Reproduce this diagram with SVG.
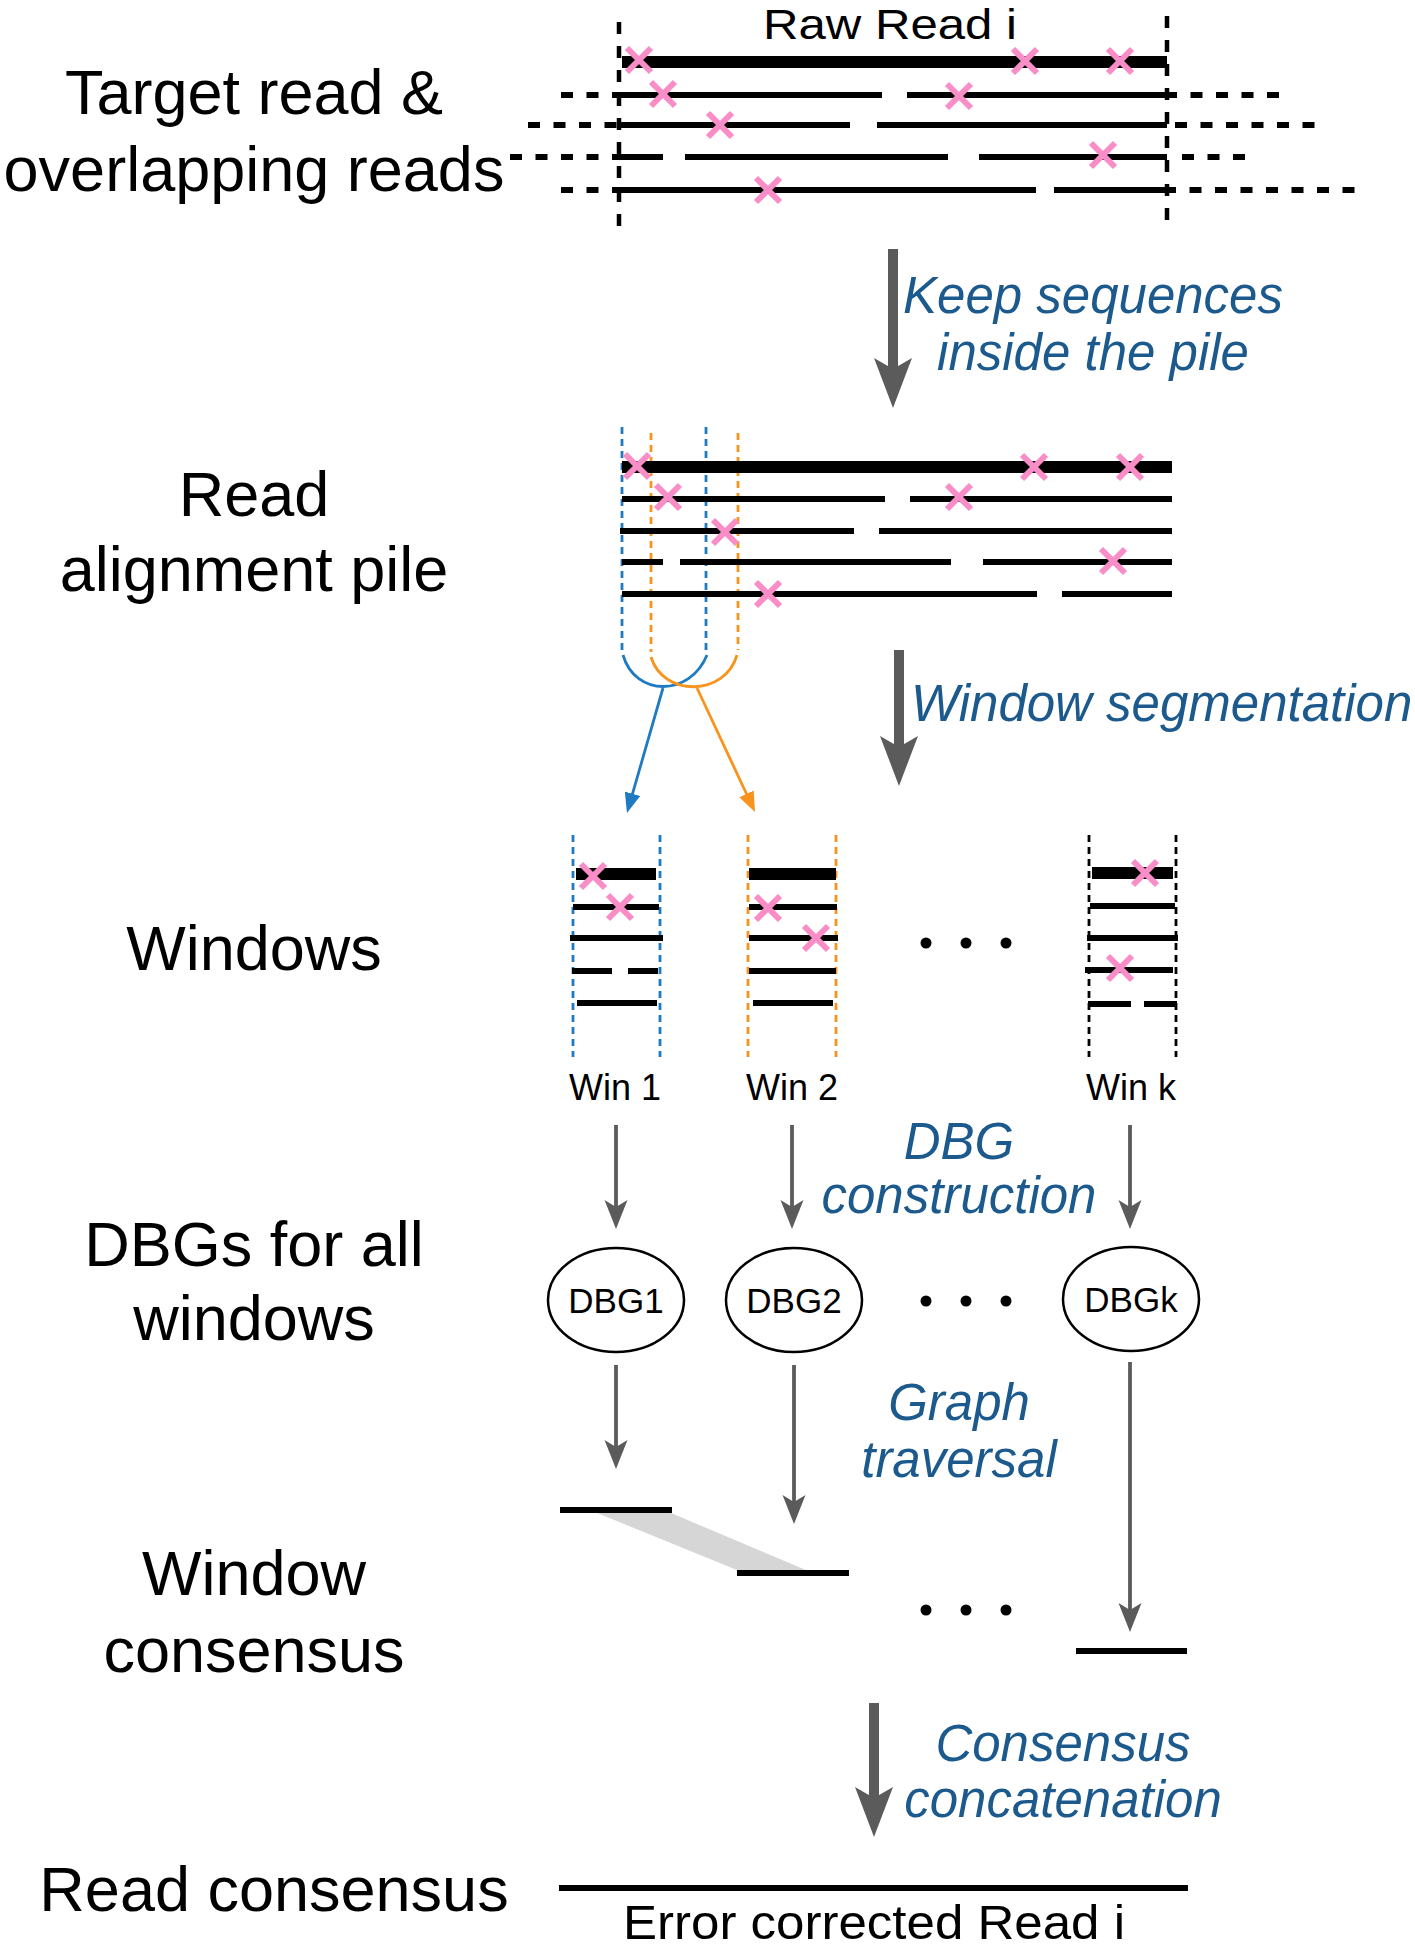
<svg xmlns="http://www.w3.org/2000/svg" width="1415" height="1950" viewBox="0 0 1415 1950">
<style>
.lbl{font-family:"Liberation Sans",Arial,sans-serif;font-size:63px;fill:#000;text-anchor:middle}
.blue{font-family:"Liberation Sans",Arial,sans-serif;font-size:51px;font-style:italic;fill:#1C5A8E;text-anchor:middle}
.sm{font-family:"Liberation Sans",Arial,sans-serif;font-size:36px;fill:#000;text-anchor:middle}
.dbg{font-family:"Liberation Sans",Arial,sans-serif;font-size:35px;fill:#000;text-anchor:middle}
.thick{stroke:#000;stroke-width:12;fill:none}
.read{stroke:#000;stroke-width:6;fill:none}
.dots{stroke:#000;stroke-width:6;fill:none;stroke-dasharray:12 13.5}
.vdash{stroke:#000;stroke-width:4.5;fill:none;stroke-dasharray:12 12}
.bdash{stroke:#1F7BC1;stroke-width:2.8;fill:none;stroke-dasharray:7 5}
.odash{stroke:#F7941D;stroke-width:2.8;fill:none;stroke-dasharray:7 5}
.kdash{stroke:#000;stroke-width:2.8;fill:none;stroke-dasharray:7 5}
.x{stroke:#F98DC7;stroke-width:6;fill:none}
.big{stroke:#5b5b5b;stroke-width:10;fill:none}
.thin{stroke:#5b5b5b;stroke-width:3.8;fill:none}
.node{fill:#fff;stroke:#000;stroke-width:2.5}
</style>
<defs>
<path id="cross" d="M-12,-12 L12,12 M12,-12 L-12,12" class="x"/>
<marker id="hb" markerUnits="userSpaceOnUse" markerWidth="50" markerHeight="42" viewBox="0 0 50 42" refX="11" refY="21" orient="auto"><path d="M0,2 L50,21 L0,40 L11,21 Z" fill="#5b5b5b"/></marker>
<marker id="hs" markerUnits="userSpaceOnUse" markerWidth="29" markerHeight="25" viewBox="0 0 29 25" refX="7" refY="12.5" orient="auto"><path d="M0,1 L29,12.5 L0,24 L7,12.5 Z" fill="#5b5b5b"/></marker>
<marker id="hblue" markerUnits="userSpaceOnUse" markerWidth="20" markerHeight="16" viewBox="0 0 20 16" refX="4" refY="8" orient="auto"><path d="M0,0 L20,8 L0,16 Z" fill="#1F7BC1"/></marker>
<marker id="horange" markerUnits="userSpaceOnUse" markerWidth="20" markerHeight="16" viewBox="0 0 20 16" refX="4" refY="8" orient="auto"><path d="M0,0 L20,8 L0,16 Z" fill="#F7941D"/></marker>
</defs>
<rect width="1415" height="1950" fill="#fff"/>

<g id="labels">
<text class="lbl" x="254" y="114">Target read &amp;</text>
<text class="lbl" x="254" y="191">overlapping reads</text>
<text class="lbl" x="254" y="516">Read</text>
<text class="lbl" x="254" y="591">alignment pile</text>
<text class="lbl" x="254" y="970">Windows</text>
<text class="lbl" x="254" y="1266">DBGs for all</text>
<text class="lbl" x="254" y="1340">windows</text>
<text class="lbl" x="254" y="1595">Window</text>
<text class="lbl" x="254" y="1672">consensus</text>
<text class="lbl" x="274" y="1911">Read consensus</text>
</g>

<g id="raw-reads">
<text x="763" y="39" font-family="Liberation Sans, Arial, sans-serif" font-size="43" textLength="254" lengthAdjust="spacingAndGlyphs">Raw Read i</text>
<path class="vdash" d="M619,22 V238"/>
<path class="vdash" d="M1167,16 V232"/>
<path class="thick" d="M622,62 H1167"/>
<path class="read" d="M617,95 H882 M907,95 H1167"/>
<path class="read" d="M619,125 H850 M877,125 H1167"/>
<path class="read" d="M617,157 H663 M685,157 H948 M979,157 H1167"/>
<path class="read" d="M619,190 H1036 M1054,190 H1167"/>
<path class="dots" d="M561,95 H620"/>
<path class="dots" d="M528,125 H619"/>
<path class="dots" d="M510,157 H619"/>
<path class="dots" d="M561,190 H620"/>
<path class="dots" d="M1165,95 H1280"/>
<path class="dots" d="M1175,125 H1316"/>
<path class="dots" d="M1182,157 H1248"/>
<path class="dots" d="M1164,190 H1356"/>
<use href="#cross" x="639" y="60"/>
<use href="#cross" x="1025" y="61"/>
<use href="#cross" x="1120" y="61"/>
<use href="#cross" x="663" y="94"/>
<use href="#cross" x="959" y="96"/>
<use href="#cross" x="720" y="125"/>
<use href="#cross" x="1103" y="155"/>
<use href="#cross" x="768" y="190"/>
</g>

<g id="pile">
<path class="bdash" d="M622,427 V650"/>
<path class="bdash" d="M706,427 V650"/>
<path class="odash" d="M651,433 V652"/>
<path class="odash" d="M738,433 V650"/>
<path class="thick" d="M622,467 H1172"/>
<path class="read" d="M622,499 H885 M910,499 H1172"/>
<path class="read" d="M620,531 H854 M879,531 H1172"/>
<path class="read" d="M622,562 H663 M680,562 H951 M983,562 H1172"/>
<path class="read" d="M622,594 H1037 M1062,594 H1172"/>
<use href="#cross" x="637" y="466"/>
<use href="#cross" x="1034" y="467"/>
<use href="#cross" x="1130" y="467"/>
<use href="#cross" x="668" y="497"/>
<use href="#cross" x="959" y="497"/>
<use href="#cross" x="725" y="532"/>
<use href="#cross" x="1113" y="561"/>
<use href="#cross" x="768" y="594"/>
</g>

<g id="win1">
<path class="bdash" d="M573,835 V1057 M660,835 V1057"/>
<path class="thick" d="M576,874 H656"/>
<path class="read" d="M573,907 H659"/>
<path class="read" d="M570,938 H663"/>
<path class="read" d="M572,971 H612 M628,971 H658"/>
<path class="read" d="M577,1003 H657"/>
<use href="#cross" x="593" y="876"/>
<use href="#cross" x="620" y="907"/>
<text class="sm" x="615" y="1100">Win 1</text>
</g>
<g id="win2">
<path class="odash" d="M748,835 V1057 M836,835 V1057"/>
<path class="thick" d="M749,874 H836"/>
<path class="read" d="M749,907 H837"/>
<path class="read" d="M749,938 H838"/>
<path class="read" d="M749,971 H836"/>
<path class="read" d="M753,1003 H833"/>
<use href="#cross" x="768" y="908"/>
<use href="#cross" x="816" y="938"/>
<text class="sm" x="792" y="1100">Win 2</text>
</g>
<g id="wink">
<path class="kdash" d="M1089,835 V1057 M1176,835 V1057"/>
<path class="thick" d="M1092,873 H1173"/>
<path class="read" d="M1090,906 H1175"/>
<path class="read" d="M1087,938 H1178"/>
<path class="read" d="M1085,970 H1173"/>
<path class="read" d="M1088,1004 H1131 M1144,1004 H1177"/>
<use href="#cross" x="1145" y="873"/>
<use href="#cross" x="1120" y="968"/>
<text class="sm" x="1131" y="1100">Win k</text>
</g>
<g id="win-dots" fill="#000">
<circle cx="926" cy="943" r="5.5"/><circle cx="966" cy="943" r="5.5"/><circle cx="1006" cy="943" r="5.5"/>
</g>

<g id="dbg1"><ellipse class="node" cx="616" cy="1300" rx="68" ry="52"/><text class="dbg" x="616" y="1313">DBG1</text></g>
<g id="dbg2"><ellipse class="node" cx="794" cy="1300" rx="68" ry="52"/><text class="dbg" x="794" y="1313">DBG2</text></g>
<g id="dbgk"><ellipse class="node" cx="1131" cy="1299" rx="68" ry="52"/><text class="dbg" x="1131" y="1312">DBGk</text></g>
<g id="dbg-dots" fill="#000">
<circle cx="926" cy="1301" r="5.5"/><circle cx="966" cy="1301" r="5.5"/><circle cx="1006" cy="1301" r="5.5"/>
</g>

<g id="consensus">
<polygon points="597,1513 671,1513 806,1570 737,1570" fill="#d6d6d6"/>
<path class="read" d="M560,1510 H672"/>
<path class="read" d="M737,1573 H849"/>
<path class="read" d="M1076,1651 H1187"/>
<g fill="#000"><circle cx="926" cy="1610" r="5.5"/><circle cx="966" cy="1610" r="5.5"/><circle cx="1006" cy="1610" r="5.5"/></g>
</g>

<g id="read-consensus">
<path class="read" d="M559,1888 H1188"/>
<text x="623" y="1939" font-family="Liberation Sans, Arial, sans-serif" font-size="48" textLength="502" lengthAdjust="spacingAndGlyphs">Error corrected Read i</text>
</g>

<g id="step-labels">
<text class="blue" x="1093" y="313">Keep sequences</text>
<text class="blue" x="1093" y="370">inside the pile</text>
<text class="blue" x="911" y="721" style="text-anchor:start">Window segmentation</text>
<text class="blue" x="959" y="1159">DBG</text>
<text class="blue" x="959" y="1213">construction</text>
<text class="blue" x="959" y="1420">Graph</text>
<text class="blue" x="959" y="1477">traversal</text>
<text class="blue" x="1063" y="1761">Consensus</text>
<text class="blue" x="1063" y="1817">concatenation</text>
</g>

<g id="connectors">
<path class="big" d="M893,249 V369" marker-end="url(#hb)"/>
<path class="big" d="M899,650 V747" marker-end="url(#hb)"/>
<path class="big" d="M874,1703 V1798" marker-end="url(#hb)"/>
<path class="thin" d="M616,1125 V1207" marker-end="url(#hs)"/>
<path class="thin" d="M792,1125 V1207" marker-end="url(#hs)"/>
<path class="thin" d="M1130,1125 V1207" marker-end="url(#hs)"/>
<path class="thin" d="M616,1365 V1447" marker-end="url(#hs)"/>
<path class="thin" d="M794,1365 V1502" marker-end="url(#hs)"/>
<path class="thin" d="M1130,1362 V1610" marker-end="url(#hs)"/>
<path d="M623,655 C635,697 690,697 707,655" stroke="#1F7BC1" stroke-width="2.8" fill="none"/>
<path d="M651,657 C663,697 725,697 737,655" stroke="#F7941D" stroke-width="2.8" fill="none"/>
<path d="M663,688 L631.4,797.6" stroke="#1F7BC1" stroke-width="2.8" fill="none" marker-end="url(#hblue)"/>
<path d="M697,688 L748.2,797.5" stroke="#F7941D" stroke-width="2.8" fill="none" marker-end="url(#horange)"/>
</g>
</svg>
